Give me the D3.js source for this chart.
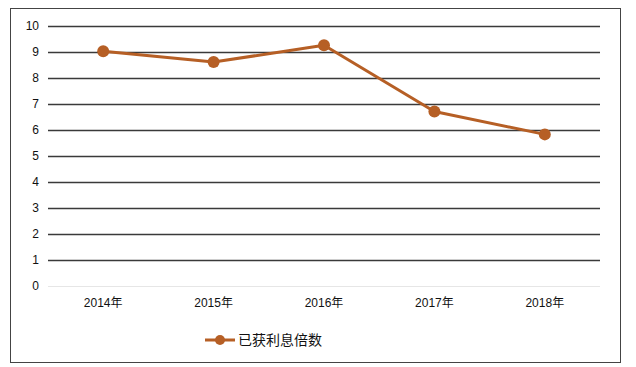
<!DOCTYPE html>
<html>
<head>
<meta charset="utf-8">
<script src="https://cdn.jsdelivr.net/npm/d3@7/dist/d3.min.js"></script>
<style>
  body { margin: 0; background: #fff; }
  text { font-family: "Liberation Sans", "Noto Sans CJK SC", sans-serif; fill: #111; }
</style>
</head>
<body>
<svg width="636" height="367"></svg>
<script>
// data
var years = ["2014年", "2015年", "2016年", "2017年", "2018年"];
var values = [9.02, 8.6, 9.25, 6.7, 5.82];
var yTicks = [0, 1, 2, 3, 4, 5, 6, 7, 8, 9, 10];
var seriesName = "已获利息倍数";

var svg = d3.select("svg");
var color = "#B65F25";

// frame
svg.append("rect")
  .attr("x", 10.5).attr("y", 8.5)
  .attr("width", 610).attr("height", 354)
  .attr("fill", "#fff").attr("stroke", "#444").attr("stroke-width", 1);

var x = d3.scalePoint().domain(years).range([48, 600]).padding(0.5);
var y = d3.scaleLinear().domain([0, 10]).range([285.7, 25.7]);

// gridlines
svg.append("g").selectAll("line")
  .data(yTicks)
  .enter().append("line")
  .attr("x1", 48).attr("x2", 600)
  .attr("y1", function(d) { return Math.round(y(d)) + 0.5; })
  .attr("y2", function(d) { return Math.round(y(d)) + 0.5; })
  .attr("stroke", function(d) { return d == 0 ? "#e6e6e6" : "#3a3a3a"; })
  .attr("stroke-width", function(d) { return d == 0 ? 1 : 1.4; });

// y labels
svg.append("g").selectAll("text")
  .data(yTicks)
  .enter().append("text")
  .attr("x", 39)
  .attr("y", function(d) { return y(d); })
  .attr("dy", "0.35em")
  .attr("text-anchor", "end")
  .style("font-size", "12px")
  .text(function(d) { return d; });

// x labels
svg.append("g").selectAll("text")
  .data(years)
  .enter().append("text")
  .attr("x", function(d) { return x(d); })
  .attr("y", 303)
  .attr("dy", "0.35em")
  .attr("text-anchor", "middle")
  .style("font-size", "12px")
  .text(function(d) { return d; });

// series
var line = d3.line()
  .x(function(d, i) { return x(years[i]); })
  .y(function(d) { return y(d); });

svg.append("path")
  .datum(values)
  .attr("d", line)
  .attr("fill", "none")
  .attr("stroke", color)
  .attr("stroke-width", 3)
  .attr("stroke-linejoin", "round");

svg.append("g").selectAll("circle")
  .data(values)
  .enter().append("circle")
  .attr("cx", function(d, i) { return x(years[i]); })
  .attr("cy", function(d) { return y(d); })
  .attr("r", 6)
  .attr("fill", color);

// legend
var lg = svg.append("g").attr("transform", "translate(205,340)");
lg.append("line").attr("x1", 0).attr("x2", 30).attr("y1", 0).attr("y2", 0)
  .attr("stroke", color).attr("stroke-width", 3);
lg.append("circle").attr("cx", 15).attr("cy", 0).attr("r", 5).attr("fill", color);
lg.append("text").attr("x", 33).attr("y", 0).attr("dy", "0.35em")
  .style("font-size", "14px").text(seriesName);
</script>
</body>
</html>
